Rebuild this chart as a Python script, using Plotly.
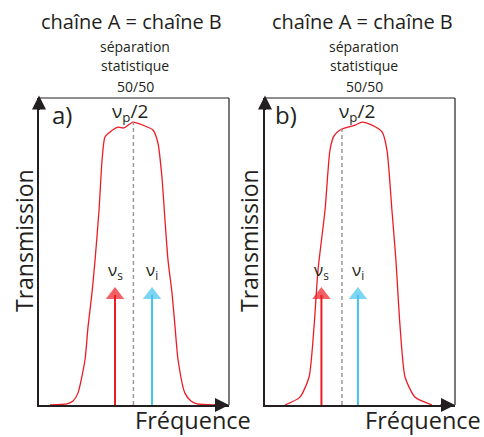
import plotly.graph_objects as go

# ---------------- data ----------------
# filter transmission (arbitrary frequency units)
freq_a = [0.58, 1.47, 1.79, 2.05, 2.42, 2.58, 2.79, 2.95, 3.16, 3.32, 3.47, 3.74, 4.16, 4.47,
          4.95, 5.47, 6.0, 6.26, 6.47, 6.63, 6.79, 7.0, 7.16, 7.32, 7.68, 8.0, 8.32, 9.26]
trans_a = [0.0, 0.004, 0.014, 0.042, 0.159, 0.276, 0.396, 0.512, 0.689, 0.866, 0.947, 0.965, 0.982, 0.979,
           1.0, 0.989, 0.972, 0.926, 0.806, 0.654, 0.512, 0.396, 0.276, 0.159, 0.042, 0.014, 0.004, 0.0]

freq_b = [1.05, 1.84, 2.32, 2.58, 2.79, 3.16, 3.42, 3.63, 3.95, 4.37, 4.74, 5.11, 5.63, 6.16,
          6.42, 6.68, 6.89, 7.11, 7.37, 7.89, 8.79]
trans_b = [0.0, 0.028, 0.099, 0.276, 0.477, 0.689, 0.901, 0.951, 0.972, 0.982, 0.989, 1.0, 0.989, 0.965,
           0.901, 0.689, 0.512, 0.276, 0.099, 0.028, 0.0]

signal_freq = [4.0, 2.97]      # nu_s for panels a, b
idler_freq = [5.95, 4.89]      # nu_i for panels a, b
pump_half_freq = [4.97, 4.05]  # nu_p/2 for panels a, b
pump_line_top = [1.0, 0.975]
photon_level = 0.389
label_freq = [4.8, 4.84]

panel_letters = ["a)", "b)"]
titles = ["chaîne A = chaîne B", "chaîne A = chaîne B"]
subtitle_lines = ["séparation", "statistique", "50/50"]

# ---------------- style ----------------
W, H = 484, 437
RED = "#ed1c24"
CYAN = "#45c3ec"
GRAY = "#9a9a9a"
DARK = "#231f20"
FONT = "Open Sans"

def px(x, y):
    return x / W, 1 - y / H

fig = go.Figure()

panels = [
    dict(xa="x", ya="y", freq=freq_a, trans=trans_a),
    dict(xa="x2", ya="y2", freq=freq_b, trans=trans_b),
]
y_dom = (px(0, 405)[1], px(0, 98)[1])

for i, p in enumerate(panels):
    fig.add_trace(go.Scatter(x=p["freq"], y=p["trans"], mode="lines",
                             line=dict(color=RED, width=1.3, shape="spline", smoothing=0.6),
                             xaxis=p["xa"], yaxis=p["ya"], hoverinfo="skip"))
    fig.add_trace(go.Scatter(x=[pump_half_freq[i]] * 2, y=[0, pump_line_top[i]], mode="lines",
                             line=dict(color=GRAY, width=1.5, dash="4px,3px"),
                             xaxis=p["xa"], yaxis=p["ya"], hoverinfo="skip"))
    for f, col in ((signal_freq[i], RED), (idler_freq[i], CYAN)):
        fig.add_trace(go.Scatter(x=[f, f], y=[0, photon_level], mode="lines+markers",
                                 line=dict(color=col, width=2),
                                 marker=dict(symbol="triangle-up", size=[0, 16], color=col, line=dict(width=0)),
                                 xaxis=p["xa"], yaxis=p["ya"], hoverinfo="skip", cliponaxis=False))

axis_common = dict(showline=True, linewidth=2, linecolor=DARK, ticks="", showticklabels=False,
                   showgrid=False, zeroline=False, fixedrange=True)
fig.update_layout(
    xaxis=dict(domain=[39 / W, 229 / W], range=[0, 10], anchor="y", **axis_common),
    yaxis=dict(domain=list(y_dom), range=[0, 1.085], anchor="x", **axis_common),
    xaxis2=dict(domain=[265 / W, 455 / W], range=[0, 10], anchor="y2", **axis_common),
    yaxis2=dict(domain=list(y_dom), range=[0, 1.085], anchor="x2", **axis_common),
)

shapes = []
annotations = []
for i, p in enumerate(panels):
    xd = "x domain" if i == 0 else "x2 domain"
    yd = "y domain" if i == 0 else "y2 domain"
    shapes.append(dict(type="line", xref=xd, yref=yd, x0=0, x1=1, y0=1, y1=1,
                       line=dict(color=DARK, width=1.2)))
    shapes.append(dict(type="line", xref=xd, yref=yd, x0=1, x1=1, y0=0, y1=1,
                       line=dict(color=DARK, width=1.2)))
    # axis arrowheads
    annotations.append(dict(xref=xd, yref=yd, x=1, y=0, ax=-16, ay=0, text="", showarrow=True,
                            arrowhead=2, arrowsize=1.4, arrowwidth=2, arrowcolor=DARK))
    annotations.append(dict(xref=xd, yref=yd, x=0, y=1.008, ax=0, ay=16, text="", showarrow=True,
                            arrowhead=2, arrowsize=1.4, arrowwidth=2, arrowcolor=DARK))
    xa, ya = p["xa"], p["ya"]
    # photon labels
    for f, lab in ((signal_freq[i], "ν<sub>s</sub>"), (idler_freq[i], "ν<sub>i</sub>")):
        annotations.append(dict(xref=xa, yref=ya, x=f, y=photon_level + 0.035, text=lab, showarrow=False,
                                yanchor="bottom", font=dict(family=FONT, size=17, color=DARK)))
    annotations.append(dict(xref=xa, yref=ya, x=label_freq[i], y=1.035, text="ν<sub>p</sub>/2",
                            showarrow=False, yanchor="middle", font=dict(family=FONT, size=19, color=DARK)))

def text_at(x, y, t, size, angle=0):
    xx, yy = px(x, y)
    annotations.append(dict(xref="paper", yref="paper", x=xx, y=yy, text=t, showarrow=False,
                            xanchor="center", yanchor="middle", textangle=angle,
                            font=dict(family=FONT, size=size, color=DARK)))

title_x = [131, 362]
sub_x = [135, 364]
letter_x = [62, 286]
ylab_x = [24, 249]
xlab_x = [193, 423]
for i in range(2):
    text_at(title_x[i], 22, titles[i], 20)
    for j, line in enumerate(subtitle_lines):
        text_at(sub_x[i], [47, 66, 86][j], line, 14)
    text_at(letter_x[i], 115, panel_letters[i], 24)
    text_at(ylab_x[i], 241, "Transmission", 23, -90)
    text_at(xlab_x[i], 420, "Fréquence", 23.5)

fig.update_layout(width=W, height=H, margin=dict(l=0, r=0, t=0, b=0),
                  paper_bgcolor="white", plot_bgcolor="white", showlegend=False,
                  shapes=shapes, annotations=annotations)

fig.write_html("out.html", config={"displayModeBar": False, "staticPlot": True},
               post_script="document.body.style.margin='0';document.body.style.padding='0';")
